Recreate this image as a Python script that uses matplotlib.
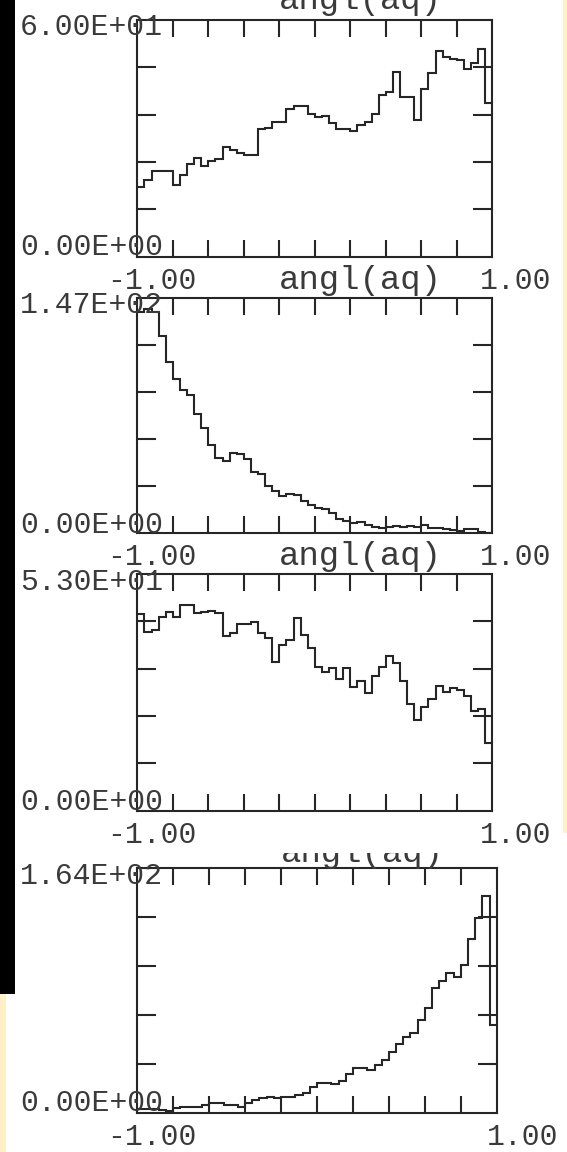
import numpy as np
import matplotlib
matplotlib.use("Agg")
import matplotlib.pyplot as plt
from matplotlib.patches import Rectangle
from matplotlib.transforms import Bbox

# ---------------- data ----------------
x_min, x_max = -1.0, 1.0
n_bins = 50
x_label = "angl(aq)"
x_left_label = "-1.00"
x_right_label = "1.00"

p1_ymax = 60.0
p1_ylabels = ["6.00E+01", "0.00E+00"]
p1_counts = [17.7, 19.4, 21.8, 21.8, 21.8, 18.3, 20.7, 23.5, 25.1, 23.1,
             24.3, 24.7, 27.9, 27.0, 26.2, 25.8, 25.8, 32.3, 32.7, 34.2,
             34.2, 37.4, 38.2, 38.2, 36.2, 35.5, 35.7, 33.8, 32.3, 32.3,
             31.9, 33.4, 34.2, 36.2, 41.0, 41.8, 46.9, 40.6, 40.6, 34.6,
             42.5, 46.5, 52.1, 50.5, 50.2, 49.8, 47.7, 49.0, 52.6, 38.9]

p2_ymax = 147.0
p2_ylabels = ["1.47E+02", "0.00E+00"]
p2_counts = [138.0, 140.0, 138.0, 123.3, 107.1, 96.3, 89.4, 86.3, 74.4, 65.9,
             55.1, 46.8, 45.1, 50.3, 49.5, 46.2, 38.5, 36.8, 29.5, 26.6,
             23.5, 24.5, 23.9, 20.2, 17.7, 16.0, 15.0, 12.5, 8.9, 7.7,
             6.2, 6.9, 5.2, 4.2, 3.1, 3.7, 4.8, 4.2, 4.8, 3.7,
             5.2, 3.1, 3.1, 2.5, 2.1, 1.7, 2.5, 2.5, 1.0, 0.0]

p3_ymax = 53.0
p3_ylabels = ["5.30E+01", "0.00E+00"]
p3_counts = [44.0, 40.1, 40.5, 43.4, 44.6, 43.4, 46.1, 46.1, 44.3, 44.6,
             44.8, 44.3, 39.2, 39.7, 41.8, 41.8, 42.2, 39.9, 38.6, 33.4,
             37.1, 38.2, 43.1, 39.3, 36.4, 32.2, 31.1, 31.9, 29.4, 31.9,
             27.8, 29.1, 26.3, 30.2, 32.2, 34.7, 33.0, 29.1, 23.9, 20.2,
             23.3, 24.9, 28.0, 26.6, 27.4, 27.0, 25.7, 22.4, 22.8, 15.1]

p4_ymax = 164.0
p4_ylabels = ["1.64E+02", "0.00E+00"]
p4_counts = [2.7, 2.2, 2.7, 1.8, 1.3, 3.4, 4.0, 4.0, 4.0, 5.1,
             6.3, 6.3, 5.1, 5.1, 4.0, 6.3, 8.5, 9.6, 10.7, 9.6,
             10.7, 10.7, 11.9, 13.4, 17.0, 20.1, 20.1, 19.0, 21.5, 25.7,
             29.8, 29.8, 28.6, 32.0, 35.4, 40.9, 46.1, 51.0, 53.7, 62.2,
             70.0, 83.9, 88.4, 93.5, 91.3, 99.1, 116.6, 130.4, 145.6, 59.0]

# ---------------- layout (pixels) ----------------
W, H, DPI = 567, 1152, 100
INK = "#262626"
TXT = "#3a3a3a"
FONT = ["Liberation Mono", "DejaVu Sans Mono"]
FS_NUM = 21.5
FS_TITLE = 24.5

fig = plt.figure(figsize=(W / DPI, H / DPI), dpi=DPI, facecolor="white")


def fx(x):
    return x / W


def fy(y):
    return 1 - y / H


# background strips of the screenshot
fig.patches.append(Rectangle((0, fy(994)), fx(15), 994 / H, transform=fig.transFigure,
                             facecolor="black", edgecolor="none", zorder=0))
fig.patches.append(Rectangle((0, 0), fx(6), (H - 994) / H, transform=fig.transFigure,
                             facecolor="#FFF0C8", edgecolor="none", zorder=0))
fig.patches.append(Rectangle((fx(563), fy(833)), fx(4), 833 / H, transform=fig.transFigure,
                             facecolor="#FFF0C8", edgecolor="none", zorder=0))

panels = [
    dict(box=(137.3, 20.0, 492.3, 256.7), counts=p1_counts, ymax=p1_ymax, ylab=p1_ylabels,
         ylab_base=(35, 255), xr=480),
    dict(box=(137.3, 297.7, 492.3, 533.3), counts=p2_counts, ymax=p2_ymax, ylab=p2_ylabels,
         ylab_base=(313, 533), xr=480),
    dict(box=(137.3, 574.0, 492.3, 810.7), counts=p3_counts, ymax=p3_ymax, ylab=p3_ylabels,
         ylab_base=(590, 810), xr=480),
    dict(box=(137.3, 868.3, 496.7, 1112.7), counts=p4_counts, ymax=p4_ymax, ylab=p4_ylabels,
         ylab_base=(884, 1111), xr=487),
]

edges = np.linspace(x_min, x_max, n_bins + 1)

for i, p in enumerate(panels):
    x0, y0, x1, y1 = p["box"]
    ax = fig.add_axes([fx(x0), fy(y1), (x1 - x0) / W, (y1 - y0) / H])
    ax.set_facecolor("white")
    ax.stairs(p["counts"], edges, baseline=None, color=INK, linewidth=1.5)
    ax.set_xlim(x_min, x_max)
    ax.set_ylim(0, p["ymax"])
    ax.set_xticks(np.linspace(-0.8, 0.8, 9))
    ax.set_yticks(np.linspace(p["ymax"] / 5, 4 * p["ymax"] / 5, 4))
    ax.tick_params(axis="both", direction="in", top=True, right=True,
                   labelbottom=False, labelleft=False, color=INK, width=1.5)
    ax.tick_params(axis="x", length=12.3)
    ax.tick_params(axis="y", length=14.0)
    for s in ax.spines.values():
        s.set_linewidth(1.5)
        s.set_color(INK)

    # y range labels
    fig.text(fx(20), fy(p["ylab_base"][0]), p["ylab"][0], ha="left", va="baseline",
             fontsize=FS_NUM, family=FONT, color=TXT, zorder=5)
    fig.text(fx(20), fy(p["ylab_base"][1]), p["ylab"][1], ha="left", va="baseline",
             fontsize=FS_NUM, family=FONT, color=TXT, zorder=5)

    # x labels under the box
    base = y1 + 32
    fig.text(fx(107), fy(base), x_left_label, ha="left", va="baseline",
             fontsize=FS_NUM, family=FONT, color=TXT)
    fig.text(fx(p["xr"]), fy(base), x_right_label, ha="left", va="baseline",
             fontsize=FS_NUM, family=FONT, color=TXT)
    if i < 2:
        fig.text(fx(279), fy(base), x_label, ha="left", va="baseline",
                 fontsize=FS_TITLE, family=FONT, color=TXT)

# titles cut off by the screenshot edges (partly visible in the reference)
fig.text(fx(279), fy(9), x_label, ha="left", va="baseline",
         fontsize=FS_TITLE, family=FONT, color=TXT)
t4 = fig.text(fx(281), fy(862), x_label, ha="left", va="baseline",
              fontsize=FS_TITLE, family=FONT, color=TXT)
t4.set_clip_box(Bbox.from_extents(0, 0, W, H - 853))
t4.set_clip_on(True)

fig.savefig("out.png", dpi=DPI, facecolor="white")
